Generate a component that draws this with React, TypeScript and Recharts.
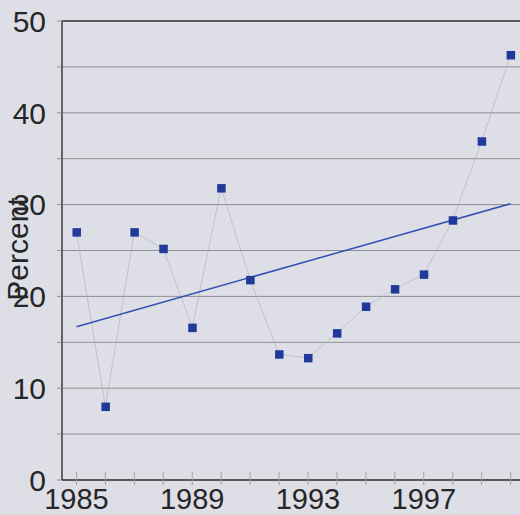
import React from 'react';
import { LineChart, Line, XAxis, YAxis, CartesianGrid, ReferenceLine, Label } from 'recharts';

const years = [1985, 1986, 1987, 1988, 1989, 1990, 1991, 1992, 1993, 1994, 1995, 1996, 1997, 1998, 1999, 2000];
const percent = [27.0, 8.0, 27.0, 25.2, 16.6, 31.8, 21.8, 13.7, 13.3, 16.0, 18.9, 20.8, 22.4, 28.3, 36.9, 46.3];
const trendYears = [1985, 2000];
const trendValues = [16.7, 30.1];
const xLabelYears = [1985, 1989, 1993, 1997];
const yTicks = [0, 5, 10, 15, 20, 25, 30, 35, 40, 45, 50];
const yLabelTicks = [0, 10, 20, 30, 40, 50];
const yTitle = 'Percent';

const data = years.map((y, i) => {
  const ti = trendYears.indexOf(y);
  return { year: y, value: percent[i], trend: ti >= 0 ? trendValues[ti] : null };
});

const FONT = '"Liberation Sans", Arial, sans-serif';
const TEXT = '#262626';

const SquareDot = (props: any) => {
  const { cx, cy, index } = props;
  if (cx == null || cy == null) return <g key={`d${index}`} />;
  return <rect key={`d${index}`} x={cx - 4} y={cy - 4} width={8.5} height={8.5} fill="#21399a" />;
};

const XTick = (props: any) => {
  const { x, y, payload } = props;
  const show = xLabelYears.includes(payload.value);
  return (
    <g>
      <line x1={x} x2={x} y1={y - 8} y2={y + 5} stroke="#a2a2aa" strokeWidth={1} />
      {show && (
        <text x={x} y={y + 28.5} textAnchor="middle" fontFamily={FONT} fontSize={29} fill={TEXT}>
          {payload.value}
        </text>
      )}
    </g>
  );
};

const YTick = (props: any) => {
  const { x, y, payload } = props;
  const show = yLabelTicks.includes(payload.value);
  return (
    <g>
      <line x1={x - 5} x2={x} y1={y} y2={y} stroke="#8e8e96" strokeWidth={1} />
      {show && (
        <text x={x - 16} y={y + 10.7} textAnchor="end" fontFamily={FONT} fontSize={30} fill={TEXT}>
          {payload.value}
        </text>
      )}
    </g>
  );
};

const YTitle = () => (
  <text transform="translate(28,249) rotate(-90)" textAnchor="middle" fontFamily={FONT} fontSize={30} fill={TEXT}>
    {yTitle}
  </text>
);

export default function App() {
  return (
    <div
      style={{
        position: 'absolute',
        left: 0,
        top: 0,
        width: 520,
        height: 515,
        overflow: 'hidden',
        background: '#dedfe6',
      }}
    >
      <LineChart width={560} height={515} data={data} margin={{ top: 21, right: 6, left: 0, bottom: 0 }}>
        <CartesianGrid vertical={false} stroke="#8e8e96" strokeWidth={1} />
        <XAxis
          dataKey="year"
          type="number"
          domain={[1984.5, 2001.5]}
          ticks={years}
          interval={0}
          allowDataOverflow
          height={35}
          tickSize={0}
          tickMargin={0}
          tickLine={false}
          tick={<XTick />}
          axisLine={{ stroke: '#3a3a3a', strokeWidth: 1.5 }}
        />
        <YAxis
          type="number"
          domain={[0, 50]}
          ticks={yTicks}
          interval={0}
          width={62}
          tickSize={0}
          tickMargin={0}
          tickLine={false}
          tick={<YTick />}
          axisLine={{ stroke: '#3a3a3a', strokeWidth: 1.5 }}
        >
          <Label content={<YTitle />} />
        </YAxis>
        <ReferenceLine y={50} stroke="#3a3a3a" strokeWidth={1.5} />
        <Line
          dataKey="value"
          stroke="#adadb6"
          strokeWidth={0.6}
          dot={<SquareDot />}
          activeDot={false}
          isAnimationActive={false}
        />
        <Line
          dataKey="trend"
          stroke="#3550b4"
          strokeWidth={1.5}
          connectNulls
          dot={false}
          activeDot={false}
          isAnimationActive={false}
        />
      </LineChart>
    </div>
  );
}
